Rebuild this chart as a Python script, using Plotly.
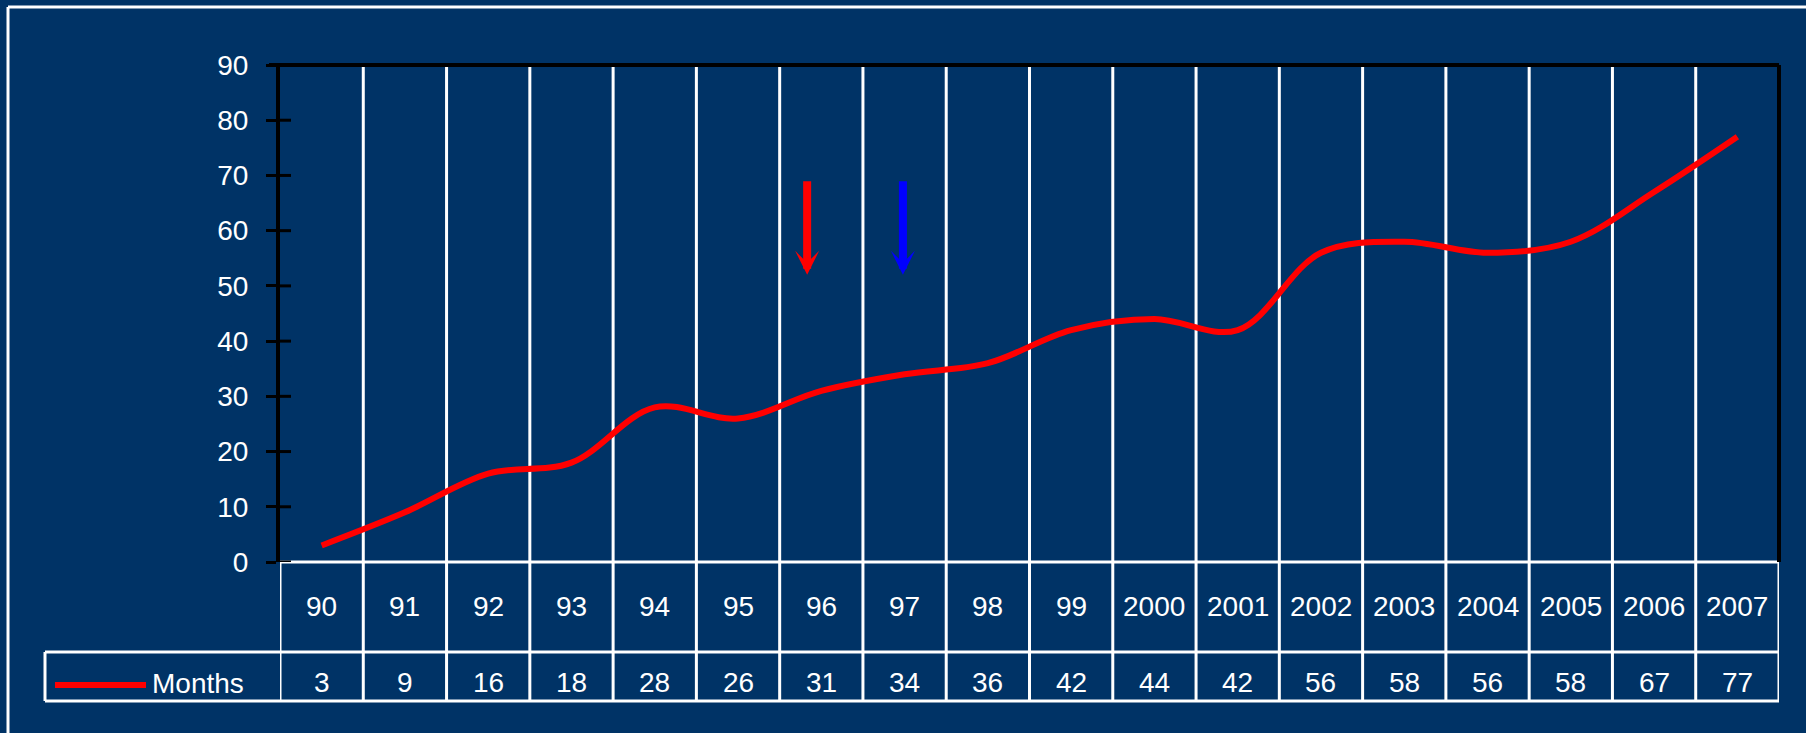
import plotly.graph_objects as go

# Data
years = ["90", "91", "92", "93", "94", "95", "96", "97", "98", "99",
         "2000", "2001", "2002", "2003", "2004", "2005", "2006", "2007"]
months = [3, 9, 16, 18, 28, 26, 31, 34, 36, 42, 44, 42, 56, 58, 56, 58, 67, 77]
y_ticks = [0, 10, 20, 30, 40, 50, 60, 70, 80, 90]
series_name = "Months"

# Canvas and plot-area geometry (pixels)
W, H = 1806, 733
L, R, T, B = 280, 1779, 65, 562
PW, PH = R - L, B - T

BG = "#003366"
FONT = "Liberation Sans, Arial, sans-serif"


def px(x):
    return (x - L) / PW


def py(y):
    return (B - y) / PH


fig = go.Figure()
fig.add_trace(go.Scatter(
    x=years, y=months, mode="lines",
    line=dict(color="#ff0000", width=6, shape="spline", smoothing=1.0),
    showlegend=False, hoverinfo="skip",
))

shapes = []
white = dict(color="white", width=3)
black = dict(color="black", width=4)

# vertical category dividers, through plot and the table below
n = len(years)
for k in range(n + 1):
    xb = k - 0.5
    if 0 < k < n:
        shapes.append(dict(type="line", xref="x", yref="paper", x0=xb, x1=xb,
                           y0=py(701), y1=1, line=white, layer="below"))
    else:
        shapes.append(dict(type="line", xref="x", yref="paper", x0=xb, x1=xb,
                           y0=py(701), y1=0, line=white, layer="below"))

# table horizontal rules
shapes.append(dict(type="line", xref="paper", yref="paper", x0=0, x1=1,
                   y0=0, y1=0, line=white))
shapes.append(dict(type="line", xref="paper", yref="paper", x0=px(45), x1=1,
                   y0=py(652), y1=py(652), line=white))
shapes.append(dict(type="line", xref="paper", yref="paper", x0=px(45), x1=1,
                   y0=py(701), y1=py(701), line=white))
shapes.append(dict(type="line", xref="paper", yref="paper", x0=px(45), x1=px(45),
                   y0=py(652), y1=py(701), line=white))

# plot frame: top and right in black
shapes.append(dict(type="line", xref="paper", yref="paper", x0=px(269), x1=1,
                   y0=1, y1=1, line=black))
shapes.append(dict(type="line", xref="paper", yref="paper", x0=1, x1=1,
                   y0=0, y1=1, line=black))

# inner half of the y tick marks
for v in y_ticks:
    shapes.append(dict(type="line", xref="paper", yref="y", x0=0, x1=px(291),
                       y0=v, y1=v, line=dict(color="black", width=3)))

# outer white frame of the slide
shapes.append(dict(type="line", xref="paper", yref="paper", x0=px(8), x1=px(1810),
                   y0=py(7), y1=py(7), line=white))
shapes.append(dict(type="line", xref="paper", yref="paper", x0=px(8), x1=px(8),
                   y0=py(7), y1=py(740), line=white))

# legend key line
shapes.append(dict(type="line", xref="paper", yref="paper", x0=px(55), x1=px(146),
                   y0=py(685), y1=py(685), line=dict(color="#ff0000", width=6)))

annotations = []
txt = dict(color="white", size=28, family=FONT)
for i, (yr, v) in enumerate(zip(years, months)):
    annotations.append(dict(x=i, y=py(606), xref="x", yref="paper", text=yr,
                            showarrow=False, font=txt, xanchor="center", yanchor="middle"))
    annotations.append(dict(x=i, y=py(682), xref="x", yref="paper", text=str(v),
                            showarrow=False, font=txt, xanchor="center", yanchor="middle"))

annotations.append(dict(x=px(150), y=py(683), xref="paper", yref="paper", text=series_name,
                        showarrow=False, font=txt, xanchor="left", yanchor="middle"))

# downward arrows
for xa, col in [(5.83, "#ff0000"), (6.98, "#0000ff")]:
    annotations.append(dict(x=xa, y=52, ax=xa, ay=69.2, xref="x", yref="y",
                            axref="x", ayref="y", text="", showarrow=True,
                            arrowhead=3, arrowsize=0.5, arrowwidth=8,
                            arrowcolor=col, standoff=0, startstandoff=0))

fig.update_layout(
    width=W, height=H,
    margin=dict(l=L, r=W - R, t=T, b=H - B, pad=0),
    paper_bgcolor=BG, plot_bgcolor=BG,
    shapes=shapes, annotations=annotations,
    showlegend=False,
    xaxis=dict(type="category", range=[-0.5, n - 0.5], showticklabels=False,
               showgrid=False, zeroline=False, showline=False, ticks=""),
    yaxis=dict(range=[0, 90], tickvals=y_ticks, ticks="outside", ticklen=10,
               tickwidth=3, tickcolor="black", showline=True, linecolor="black",
               linewidth=4, showgrid=False, zeroline=False,
               tickfont=dict(color="white", size=28, family=FONT),
               ticklabelstandoff=12),
)

fig.write_html("out.html")
